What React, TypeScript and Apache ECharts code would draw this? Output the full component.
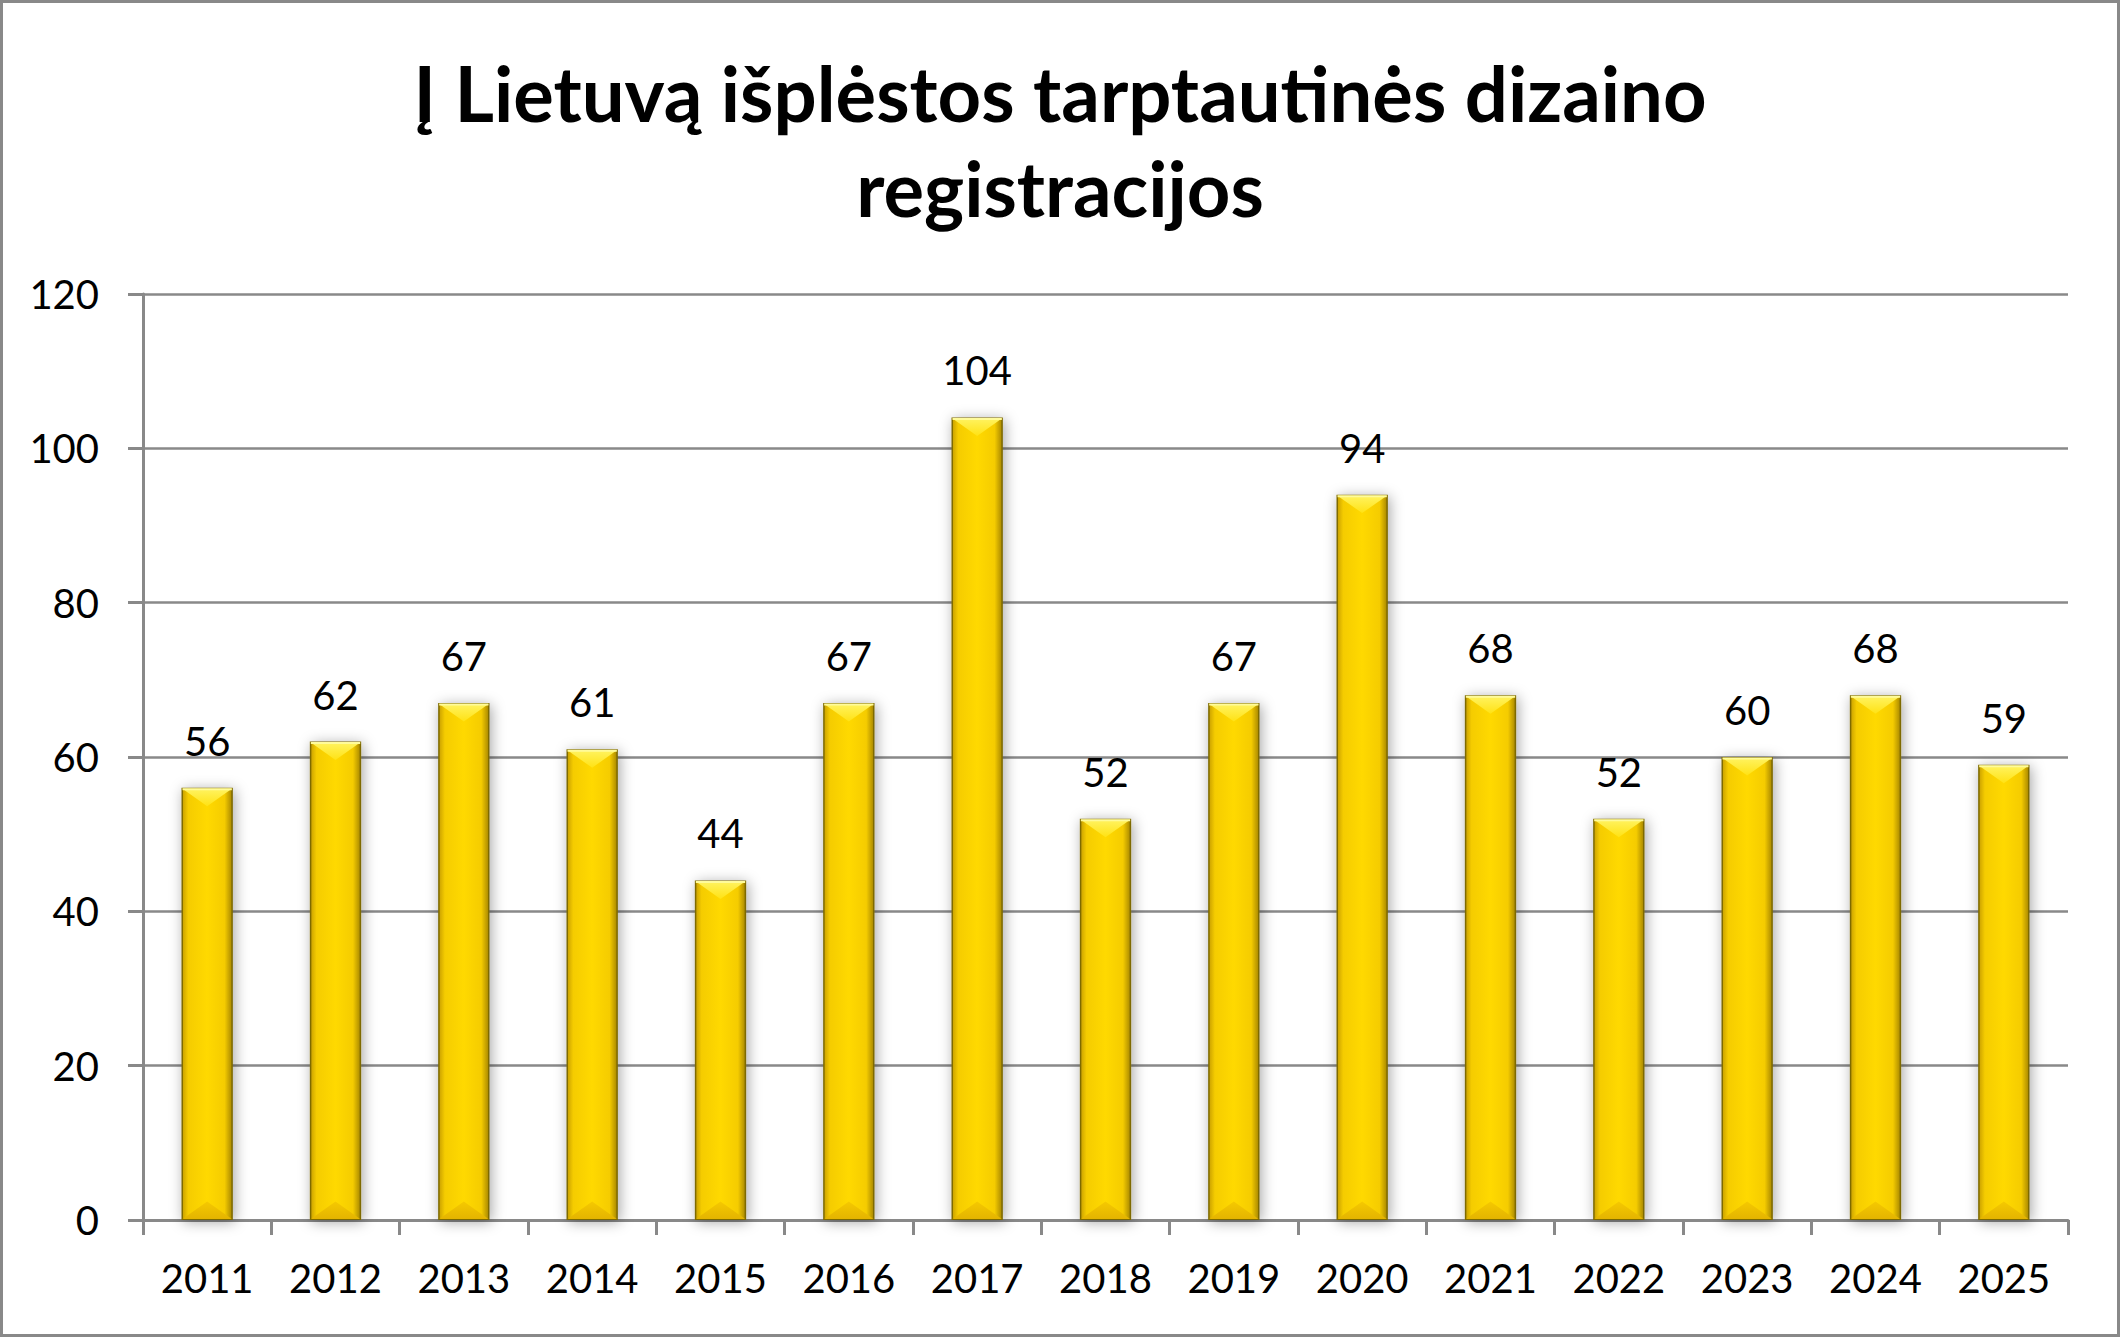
import React, { useEffect, useRef } from "react";
import * as echarts from "echarts";

// Registrations per year
const years = ["2011", "2012", "2013", "2014", "2015", "2016", "2017", "2018", "2019", "2020", "2021", "2022", "2023", "2024", "2025"];
const registrations = [56, 62, 67, 61, 44, 67, 104, 52, 67, 94, 68, 52, 60, 68, 59];
const yTicks = { min: 0, max: 120, interval: 20 };
const titleText = "Į Lietuvą išplėstos tarptautinės dizaino\nregistracijos";

const FONT = "Lato, 'Open Sans', sans-serif";
const GRID_GRAY = "#898989";

export default function App() {
  const ref = useRef<HTMLDivElement>(null);

  useEffect(() => {
    if (!ref.current) return;
    const chart = echarts.init(ref.current, undefined, { renderer: "svg" });

    // Bevel highlights drawn over each bar
    const bevel = (params: any, api: any) => {
      const i = api.value(0);
      const v = api.value(1);
      const top = api.coord([i, v]);
      const base = api.coord([i, 0]);
      const w = api.size([1, 0])[0] * 0.4;
      const x0 = top[0] - w / 2;
      const x1 = top[0] + w / 2;
      const half = w / 2;
      const d = half * 0.72;
      return {
        type: "group",
        silent: true,
        children: [
          {
            type: "polygon",
            shape: { points: [[x0 + 1, top[1] + 1], [x1 - 1, top[1] + 1], [top[0], top[1] + d]] },
            style: {
              fill: new echarts.graphic.LinearGradient(0, 0, 0, 1, [
                { offset: 0, color: "#FFF360" },
                { offset: 1, color: "#FFE214" },
              ]),
            },
          },
          {
            type: "rect",
            shape: { x: x0 + 1, y: top[1] + 0.5, width: w - 2, height: 2 },
            style: { fill: "#FFFB9A" },
          },
          {
            type: "polygon",
            shape: { points: [[x0 + 1, base[1] - 1], [x1 - 1, base[1] - 1], [top[0], base[1] - d]] },
            style: {
              fill: new echarts.graphic.LinearGradient(0, 0, 0, 1, [
                { offset: 0, color: "#F5C900" },
                { offset: 1, color: "#E4B400" },
              ]),
            },
          },
        ],
      };
    };

    chart.setOption({
      animation: false,
      backgroundColor: "#ffffff",
      textStyle: { fontFamily: FONT },
      title: {
        text: titleText,
        left: "center",
        top: 40,
        textStyle: {
          fontFamily: FONT,
          fontWeight: "bold",
          fontSize: 76,
          lineHeight: 95,
          color: "#000",
        },
      },
      graphic: [
        {
          type: "rect",
          shape: { x: 1.5, y: 1.5, width: 2117, height: 1334 },
          style: { fill: "none", stroke: GRID_GRAY, lineWidth: 3 },
          silent: true,
          z: 100,
        },
      ],
      grid: { left: 143, right: 52, top: 294, bottom: 117, containLabel: false },
      xAxis: {
        type: "category",
        data: years,
        axisLine: { show: true, lineStyle: { color: GRID_GRAY, width: 3 } },
        axisTick: { show: true, length: 15, lineStyle: { color: GRID_GRAY, width: 3 } },
        axisLabel: { color: "#000", fontSize: 40, fontFamily: FONT, margin: 38 },
      },
      yAxis: {
        type: "value",
        min: yTicks.min,
        max: yTicks.max,
        interval: yTicks.interval,
        axisLine: { show: true, lineStyle: { color: GRID_GRAY, width: 3 } },
        axisTick: { show: true, length: 15, lineStyle: { color: GRID_GRAY, width: 3 } },
        splitLine: { show: true, lineStyle: { color: GRID_GRAY, width: 2.5 } },
        axisLabel: { color: "#000", fontSize: 40, fontFamily: FONT, margin: 44 },
      },
      series: [
        {
          type: "bar",
          data: registrations,
          barWidth: "40%",
          itemStyle: {
            color: new echarts.graphic.LinearGradient(0, 0, 1, 0, [
              { offset: 0, color: "#C9A000" },
              { offset: 0.12, color: "#F5CC00" },
              { offset: 0.5, color: "#FFD900" },
              { offset: 0.85, color: "#F5CC00" },
              { offset: 1, color: "#A88700" },
            ]),
            borderColor: "#7E6A00",
            borderWidth: 1.5,
            shadowBlur: 14,
            shadowColor: "rgba(0,0,0,0.35)",
            shadowOffsetX: 2,
            shadowOffsetY: 2,
          },
          label: {
            show: true,
            position: "top",
            distance: 27,
            color: "#000",
            fontSize: 40,
            fontFamily: FONT,
          },
          z: 2,
        },
        {
          type: "custom",
          data: registrations.map((v, i) => [i, v]),
          renderItem: bevel,
          z: 3,
          silent: true,
        },
      ],
    });

    return () => chart.dispose();
  }, []);

  return (
    <div
      ref={ref}
      style={{ position: "fixed", left: 0, top: 0, width: 2120, height: 1337 }}
    />
  );
}
